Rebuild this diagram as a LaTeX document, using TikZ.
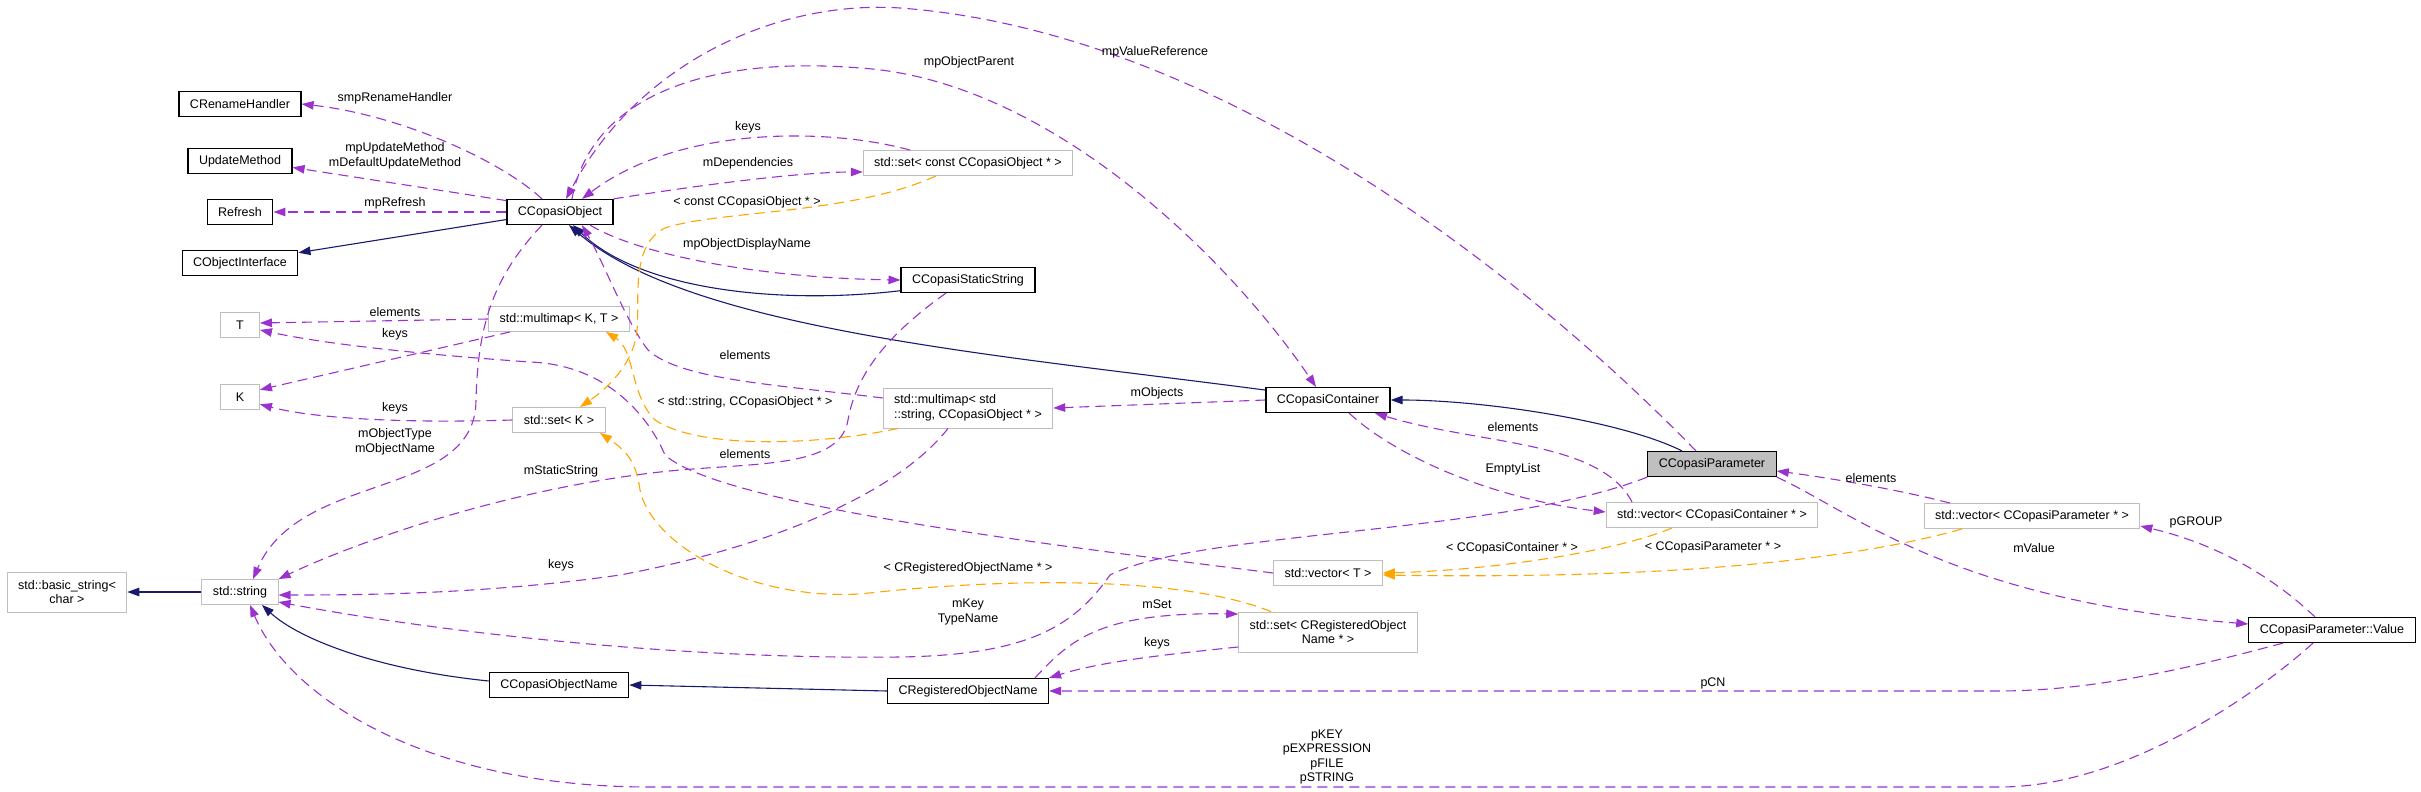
\documentclass[tikz,border=0pt]{standalone}
\usepackage{fontspec}
\setmainfont{Liberation Sans}
\usetikzlibrary{arrows.meta}
\definecolor{inhblue}{HTML}{191970}
\definecolor{usepurple}{HTML}{9A32CD}
\definecolor{tplorange}{HTML}{FFA500}
\definecolor{boxgray}{HTML}{BFBFBF}

\begin{document}
\begin{tikzpicture}[
    x=1pt, y=-1pt,
    font=\fontsize{12.5}{14.5}\selectfont,
    cls/.style={draw=black,line width=1.2pt,minimum height=25pt,inner xsep=11pt,inner ysep=4pt,align=center},
    ext/.style={cls,draw=boxgray,line width=0.9pt},
    twoline/.style={minimum height=40pt},
    lbl/.style={align=center,inner sep=0pt},
    inh/.style={draw=inhblue,line width=1.1pt,-{Triangle[length=12pt,width=8.5pt]}},
    usage/.style={draw=usepurple,line width=1.1pt,dash pattern=on 10pt off 6pt,-{Triangle[length=12pt,width=8.5pt]}},
    inst/.style={draw=tplorange,line width=1.1pt,dash pattern=on 10pt off 6pt,-{Triangle[length=12pt,width=8.5pt]}}
]
\useasboundingbox (0,0) rectangle (2421,792);

\node[cls] (ren) at (240,104) {CRenameHandler};
\node[cls] (upd) at (240,161) {UpdateMethod};
\node[cls] (ref) at (240,212) {Refresh};
\node[cls] (cobj) at (240,263) {CObjectInterface};
\node[ext,minimum width=39pt] (T) at (240,325) {T};
\node[ext,minimum width=39pt] (K) at (240,397) {K};
\node[ext,twoline] (bstr) at (67,592) {std::basic\_string<\\char >};
\node[ext] (str) at (240,592) {std::string};
\node[cls] (obj) at (560,212) {CCopasiObject};
\node[ext] (mmKT) at (559,319) {std::multimap< K, T >};
\node[ext] (setK) at (559,420) {std::set< K >};
\node[cls] (con) at (559,685) {CCopasiObjectName};
\node[ext] (setC) at (968,163) {std::set< const CCopasiObject * >};
\node[cls] (css) at (968,280) {CCopasiStaticString};
\node[ext,twoline,align=left] (mmStr) at (968,408) {std::multimap< std\\::string, CCopasiObject * >};
\node[cls] (reg) at (968,691) {CRegisteredObjectName};
\node[cls] (cont) at (1328,400) {CCopasiContainer};
\node[ext] (vT) at (1328,573) {std::vector< T >};
\node[ext,twoline] (setReg) at (1328,632) {std::set< CRegisteredObject\\Name * >};
\node[cls,fill=boxgray] (param) at (1712,464) {CCopasiParameter};
\node[ext] (vCont) at (1712,515) {std::vector< CCopasiContainer * >};
\node[ext] (vPar) at (2032,516) {std::vector< CCopasiParameter * >};
\node[cls] (val) at (2332,630) {CCopasiParameter::Value};

\draw[inh] (obj.188) -- (cobj.10);
\draw[inh] (css.189) .. controls (780,305) and (640,290) .. ([xshift=13pt]obj.south);
\draw[inh] (cont.171) .. controls (1000,355) and (690,330) .. ([xshift=9pt]obj.south);
\draw[inh] ([xshift=-30pt]param.north) .. controls (1620,420) and (1480,400) .. (cont.east);
\draw[inh] (str.west) -- (bstr.east);
\draw[inh] ([yshift=4pt]con.west) .. controls (380,670) and (300,640) .. ([xshift=22pt]str.south);
\draw[inh] (reg.west) -- (con.east);

\draw[usage] ([xshift=-18pt]obj.north) .. controls (500,160) and (400,115) .. (ren.east);
\draw[usage] (obj.168) -- (upd.-7);
\draw[usage] (obj.west) -- (ref.east);
\draw[usage] ([xshift=-18pt]obj.south) .. controls (490,280) and (478,330) .. (476,400) .. controls (476,500) and (300,470) .. ([xshift=13pt]str.north);
\draw[usage] (mmKT.west) -- ([yshift=2pt]T.east);
\draw[usage] ([xshift=-49pt]mmKT.south) -- (K.20);
\draw[usage] (vT.west) .. controls (1050,545) and (720,505) .. (665,455) .. controls (650,420) and (610,365) .. (530,362) .. controls (430,355) and (330,345) .. (T.-14);
\draw[usage] (setK.west) .. controls (420,423) and (320,420) .. (K.-20);
\draw[usage] (obj.north east) .. controls (700,185) and (800,172) .. ([yshift=-9pt]setC.west);
\draw[usage] ([xshift=-58pt]setC.north) .. controls (830,128) and (680,125) .. ([xshift=22pt]obj.north);
\draw[usage] ([xshift=30pt]obj.south) .. controls (640,255) and (760,278) .. (css.west);
\draw[usage] ([xshift=12pt]obj.north) .. controls (590,100) and (700,55) .. (860,68) .. controls (1050,80) and (1230,260) .. ([xshift=-12pt]cont.north);
\draw[usage] ([xshift=-16pt]param.north) .. controls (1500,250) and (1200,30) .. (900,8) .. controls (780,0) and (640,60) .. ([xshift=6pt]obj.north);
\draw[usage] (cont.west) -- (mmStr.east);
\draw[usage] ([xshift=21pt]cont.south) .. controls (1400,460) and (1500,500) .. ([yshift=3pt]vCont.west);
\draw[usage] ([xshift=-80pt]vCont.north) .. controls (1600,440) and (1480,445) .. ([xshift=47pt]cont.south);
\draw[usage] (param.south west) .. controls (1500,535) and (1200,530) .. (1110,575) .. controls (1075,625) and (1030,655) .. (900,657) .. controls (650,660) and (400,625) .. ([yshift=-10pt]str.east);
\draw[usage] ([xshift=67pt]reg.north) .. controls (1070,640) and (1100,612) .. ([yshift=18pt]setReg.west);
\draw[usage] ([yshift=-15pt]setReg.west) .. controls (1160,655) and (1100,662) .. (reg.north east);
\draw[usage] ([xshift=-49pt]val.south) .. controls (2200,665) and (2100,691) .. (1998,691) -- (reg.east);
\draw[usage] ([xshift=-19pt]val.south) .. controls (2250,700) and (2120,787) .. (2000,787) -- (650,787) .. controls (430,787) and (290,700) .. ([xshift=10pt]str.south);
\draw[usage] (param.south east) .. controls (1850,510) and (1950,600) .. ([yshift=6pt]val.west);
\draw[usage] ([xshift=-82pt]vPar.north) .. controls (1900,490) and (1830,478) .. ([yshift=-7pt]param.east);
\draw[usage] ([xshift=-17pt]val.north) .. controls (2260,565) and (2200,540) .. ([yshift=-10pt]vPar.east);
\draw[usage] ([yshift=10pt]mmStr.west) .. controls (780,385) and (680,380) .. (648,350) .. controls (625,320) and (605,265) .. ([xshift=22pt]obj.south);
\draw[usage] ([xshift=-22pt]css.south) .. controls (880,340) and (855,380) .. (848,420) .. controls (840,470) and (750,462) .. (660,472) .. controls (500,490) and (350,545) .. (str.north east);
\draw[usage] ([xshift=-20pt]mmStr.south) .. controls (900,490) and (780,545) .. (620,575) .. controls (480,595) and (350,595) .. ([yshift=-3pt]str.east);

\draw[inst] ([xshift=-32pt]setC.south) .. controls (850,215) and (720,210) .. (665,228) .. controls (630,245) and (640,300) .. (637,330) .. controls (634,365) and (605,390) .. ([xshift=21pt]setK.north);
\draw[inst] ([xshift=-70pt]mmStr.south) .. controls (820,445) and (700,450) .. (655,420) .. controls (630,395) and (635,350) .. ([xshift=47pt]mmKT.south);
\draw[inst] ([xshift=-57pt]setReg.north) .. controls (1180,575) and (1000,578) .. (860,594) .. controls (740,600) and (650,540) .. (640,490) .. controls (636,460) and (625,450) .. ([xshift=41pt]setK.south);
\draw[inst] ([xshift=-40pt]vCont.south) .. controls (1620,550) and (1500,570) .. (vT.east);
\draw[inst] ([xshift=-70pt]vPar.south) .. controls (1870,555) and (1700,580) .. ([yshift=-2pt]vT.east);

\node[lbl] (lRen) at (395,98) {smpRenameHandler};
\node[lbl] (lUpd) at (395,156) {mpUpdateMethod\\mDefaultUpdateMethod};
\node[lbl] (lRef) at (395,203) {mpRefresh};
\node[lbl] (lTEl) at (395,312) {elements};
\node[lbl] (lKKeys) at (395,334) {keys};
\node[lbl] (lSKeys) at (395,408) {keys};
\node[lbl] (lObjT) at (395,442) {mObjectType\\mObjectName};
\node[lbl] (lStat) at (561,471) {mStaticString};
\node[lbl] (lStrK) at (561,565) {keys};
\node[lbl] (lSetK) at (748,127) {keys};
\node[lbl] (lDep) at (748,163) {mDependencies};
\node[lbl] (lConst) at (747,202) {< const CCopasiObject * >};
\node[lbl] (lDisp) at (747,244) {mpObjectDisplayName};
\node[lbl] (lMmEl) at (745,355) {elements};
\node[lbl] (lMmT) at (745,402) {< std::string, CCopasiObject * >};
\node[lbl] (lVtEl) at (745,454) {elements};
\node[lbl] (lParent) at (969,62) {mpObjectParent};
\node[lbl] (lValRef) at (1155,52) {mpValueReference};
\node[lbl] (lRegT) at (968,568) {< CRegisteredObjectName * >};
\node[lbl] (lKey) at (968,612) {mKey\\TypeName};
\node[lbl] (lObjs) at (1157,393) {mObjects};
\node[lbl] (lSet) at (1157,604) {mSet};
\node[lbl] (lRegK) at (1157,643) {keys};
\node[lbl] (lContEl) at (1513,427) {elements};
\node[lbl] (lEmpty) at (1513,469) {EmptyList};
\node[lbl] (lContT) at (1512,548) {< CCopasiContainer * >};
\node[lbl] (lParT) at (1713,547) {< CCopasiParameter * >};
\node[lbl] (lCN) at (1713,683) {pCN};
\node[lbl] (lP) at (1327,757) {pKEY\\pEXPRESSION\\pFILE\\pSTRING};
\node[lbl] (lParEl) at (1871,478) {elements};
\node[lbl] (lVal) at (2034,548) {mValue};
\node[lbl] (lGrp) at (2196,522) {pGROUP};
\end{tikzpicture}
\end{document}
